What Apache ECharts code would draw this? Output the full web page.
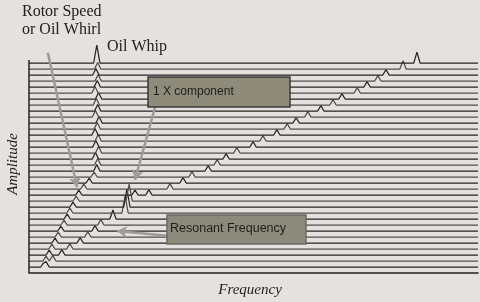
<!DOCTYPE html>
<html><head><meta charset="utf-8">
<script src="https://cdn.jsdelivr.net/npm/echarts@6/dist/echarts.min.js"></script>
<style>html,body{margin:0;padding:0;background:#e4e1de}#c{width:480px;height:302px}</style>
</head><body><div id="c"></div>
<script>
// Waterfall traces, bottom (0) to top (34); baseline level of each trace
const traceLevel = [0,1,2,3,4,5,6,7,8,9,10,11,12,13,14,15,16,17,18,19,20,21,22,23,24,25,26,27,28,29,30,31,32,33,34];
// Oil whirl / oil whip peak frequency (arbitrary 0-100 frequency units) and height (in trace spacings)
const whirlFreq = [3.3,3.8,4.5,5.1,5.8,6.5,7.1,7.8,8.5,9.1,9.8,10.5,11.1,12.2,13.4,14.5,15.1,15.3,14.8,15.5,14.9,15.4,14.7,15.2,15.6,14.8,15.3,15.0,15.5,14.7,15.2,15.4,14.9,15.3,15.1];
const whirlHeight = [0.8,0.8,0.8,0.8,0.8,0.8,0.8,0.8,0.8,0.8,0.8,0.8,0.8,0.8,0.8,0.8,1.1,1.1,1.1,1.1,1.1,1.1,1.1,1.1,1.1,1.1,1.1,1.1,1.1,1.1,1.1,1.1,1.1,1.1,3.0];
// 1X component peak frequency and height
const oneXFreq = [3.8,5.3,7.3,9.1,11.4,13.1,14.7,16.0,18.7,21.4,21.8,22.3,26.7,31.4,34.3,36.3,39.9,41.9,43.9,46.3,49.9,52.1,55.2,57.5,59.5,62.1,65.0,67.7,69.7,73.1,75.3,77.7,79.5,83.3,86.4];
const oneXHeight = [0.9,0.9,0.9,0.9,0.9,0.9,0.9,0.9,1.5,2.8,3.0,2.8,0.9,0.9,0.9,0.9,0.9,0.9,0.9,0.9,0.9,0.9,0.9,0.9,0.9,0.9,0.9,0.9,0.9,0.9,0.9,0.9,0.9,1.4,1.8];
// extra small peaks: [trace, freq, height]
const extraPeaks = [[12, 23.6, 0.8]];
const freqMin = 0, freqMax = 100;
const levelMin = -1, levelTop = 34.5, levelMax = 38;

const peakHalfWidth = 0.7;
function buildTrace(i) {
  const peaks = [[whirlFreq[i], whirlHeight[i]], [oneXFreq[i], oneXHeight[i]]];
  extraPeaks.forEach(p => { if (p[0] === i) peaks.push([p[1], p[2]]); });
  const xs = [freqMin, freqMax];
  peaks.forEach(p => { xs.push(p[0] - peakHalfWidth, p[0], p[0] + peakHalfWidth); });
  xs.sort((a, b) => a - b);
  return xs.map(x => {
    let h = 0;
    peaks.forEach(p => { h = Math.max(h, p[1] * Math.max(0, 1 - Math.abs(x - p[0]) / peakHalfWidth)); });
    return [x, traceLevel[i] + h];
  });
}

const series = traceLevel.map((lv, i) => ({
  type: 'line', data: buildTrace(i), symbol: 'none', clip: false, silent: true,
  lineStyle: { color: i % 2 ? '#4e4e4e' : '#262626', width: 1.25 }, z: 2
}));
// amplitude axis line (frame)
series.push({
  type: 'line', data: [[freqMin, levelMin], [freqMin, levelTop]], symbol: 'none', silent: true,
  lineStyle: { color: '#222', width: 1.5 }, z: 3
});
// annotation arrows
series.push({
  type: 'line', data: [], clip: false, silent: true,
  markLine: {
    silent: true, symbol: ['none', 'arrow'], symbolSize: [9, 10],
    label: { show: false },
    lineStyle: { color: '#9e9c9a', width: 2.5, type: 'solid' },
    data: [
      [{ coord: [4.2, 35.7] }, { coord: [10.7, 13.3] }],
      [{ coord: [28.1, 26.7] }, { coord: [23.6, 14.5] }],
      [{ coord: [30.7, 5.2] }, { coord: [19.6, 6.0] }]
    ]
  }
});

const chart = echarts.init(document.getElementById('c'));
chart.setOption({
  backgroundColor: '#e4e1de',
  animation: false,
  grid: { left: 29, right: 2, top: 39, bottom: 29 },
  xAxis: { type: 'value', min: freqMin, max: freqMax, axisLine: { onZero: false, lineStyle: { color: '#222', width: 1.5 } },
    axisTick: { show: false }, axisLabel: { show: false }, splitLine: { show: false } },
  yAxis: { type: 'value', min: levelMin, max: levelMax, axisLine: { show: false },
    axisTick: { show: false }, axisLabel: { show: false }, splitLine: { show: false } },
  series: series,
  graphic: [
    { type: 'text', left: 22, top: 4, z: 100, style: { text: 'Rotor Speed', font: '16px "Liberation Serif"', fill: '#222' } },
    { type: 'text', left: 22, top: 22, z: 100, style: { text: 'or Oil Whirl', font: '16px "Liberation Serif"', fill: '#222' } },
    { type: 'text', left: 107, top: 39, z: 100, style: { text: 'Oil Whip', font: '16px "Liberation Serif"', fill: '#222' } },
    { type: 'text', x: 13, y: 164, rotation: Math.PI / 2, z: 100, style: { text: 'Amplitude', font: 'italic 15px "Liberation Serif"', fill: '#222', textAlign: 'center', textVerticalAlign: 'middle' } },
    { type: 'text', x: 250, y: 290, z: 100, style: { text: 'Frequency', font: 'italic 15px "Liberation Serif"', fill: '#222', textAlign: 'center', textVerticalAlign: 'middle' } },
    { type: 'rect', z: 100, shape: { x: 148, y: 77, width: 142, height: 30 }, style: { fill: '#8e8b7b', stroke: '#3a3a3a', lineWidth: 1.5 } },
    { type: 'text', x: 153, y: 92, z: 101, style: { text: '1 X component', font: '12px "Liberation Sans"', fill: '#1e1e1e', textVerticalAlign: 'middle' } },
    { type: 'rect', z: 100, shape: { x: 167, y: 215, width: 139, height: 29 }, style: { fill: '#8c8a7a', stroke: '#6a6a66', lineWidth: 1.5 } },
    { type: 'text', x: 170, y: 229, z: 101, style: { text: 'Resonant Frequency', font: '12.5px "Liberation Sans"', fill: '#1e1e1e', textVerticalAlign: 'middle' } }
  ]
});
</script></body></html>
